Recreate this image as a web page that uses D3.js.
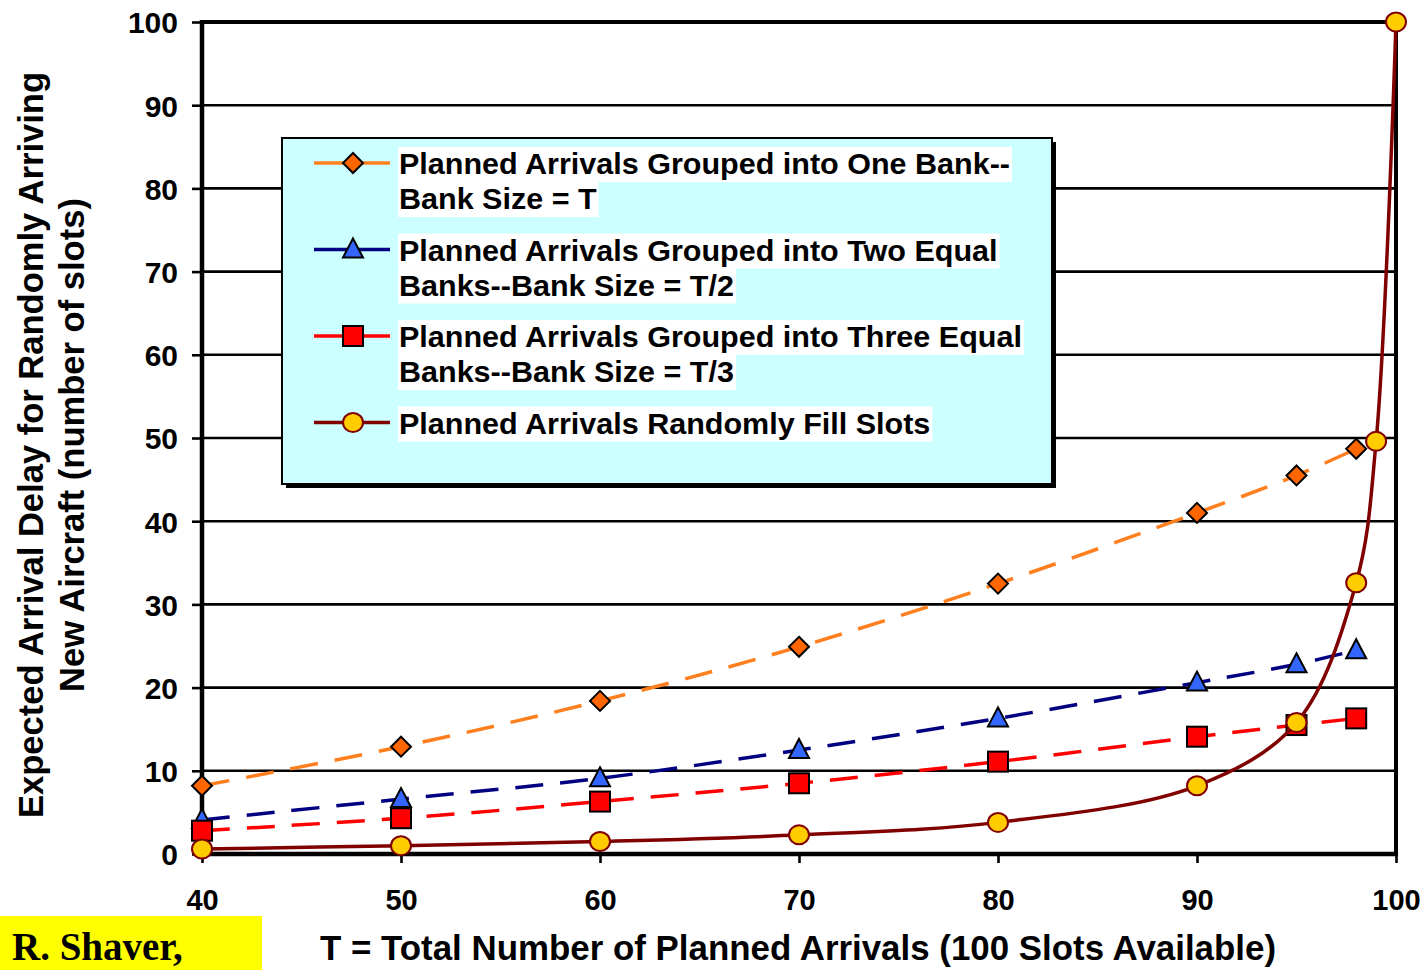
<!DOCTYPE html>
<html><head><meta charset="utf-8">
<script src="https://cdn.jsdelivr.net/npm/d3@7"></script>
<style>body{margin:0;background:#fff;} svg{display:block;}</style>
</head><body><svg id="c" width="1428" height="970"></svg>
<script>
// ---- data ----
const tValues    = [40, 50, 60, 70, 80, 90, 95, 98];
const oneBank    = [8.2, 12.9, 18.4, 24.9, 32.5, 41.0, 45.5, 48.7];
const twoBanks   = [4.1, 6.6, 9.1, 12.5, 16.3, 20.6, 22.8, 24.5];
const threeBanks = [2.8, 4.3, 6.3, 8.5, 11.1, 14.1, 15.5, 16.3];
const randomT    = [40, 50, 60, 70, 80, 90, 95, 98, 99, 100];
const randomFill = [0.6, 1.0, 1.5, 2.3, 3.8, 8.2, 15.8, 32.6, 49.6, 100];
const xTicks = [40, 50, 60, 70, 80, 90, 100];
const yTicks = [0, 10, 20, 30, 40, 50, 60, 70, 80, 90, 100];
const legendLines = [
  ["Planned Arrivals Grouped into One Bank--", "Bank Size = T"],
  ["Planned Arrivals Grouped into Two Equal", "Banks--Bank Size = T/2"],
  ["Planned Arrivals Grouped into Three Equal", "Banks--Bank Size = T/3"],
  ["Planned Arrivals Randomly Fill Slots"]
];
const xTitle = "T = Total Number of Planned Arrivals (100 Slots Available)";
const yTitleLines = ["Expected Arrival Delay for Randomly Arriving", "New Aircraft (number of slots)"];
const creditText = "R. Shaver,";

// ---- styles ----
const series = [
  {xs: tValues, ys: oneBank,    line: "#FF7F1F", fill: "#FF6600", stroke: "#000", shape: "diamond", dash: "28,17", lw: 3.5},
  {xs: tValues, ys: twoBanks,   line: "#000080", fill: "#3366FF", stroke: "#000", shape: "triangle", dash: "28,17", lw: 3.5},
  {xs: tValues, ys: threeBanks, line: "#FF0000", fill: "#FF0000", stroke: "#000", shape: "square", dash: "28,17", lw: 3.5},
  {xs: randomT, ys: randomFill, line: "#800000", fill: "#FFCC00", stroke: "#800000", shape: "circle", dash: null, lw: 3.5}
];

const svg = d3.select("#c");
svg.append("rect").attr("width", 1428).attr("height", 970).attr("fill", "#fff");

const x = d3.scaleLinear().domain([40, 100]).range([202, 1396]);
const y = d3.scaleLinear().domain([0, 100]).range([854, 22]);
const FONT = "'Liberation Sans', Arial, Helvetica, sans-serif";

// gridlines
svg.append("g").selectAll("line").data(yTicks.filter(d => d > 0 && d < 100)).join("line")
  .attr("x1", x(40)).attr("x2", x(100)).attr("y1", d => y(d)).attr("y2", d => y(d))
  .attr("stroke", "#000").attr("stroke-width", 2.6);

// axes
const yAxis = svg.append("g").attr("transform", `translate(${x(40)},0)`)
  .call(d3.axisLeft(y).tickValues(yTicks).tickSize(10).tickSizeOuter(0).tickPadding(14));
yAxis.select(".domain").remove();
yAxis.selectAll(".tick line").attr("stroke", "#000").attr("stroke-width", 2.6);
yAxis.selectAll(".tick text").attr("font-family", FONT).attr("font-weight", "bold")
  .attr("font-size", 30).attr("fill", "#000").attr("dy", "0.36em");

const xAxis = svg.append("g").attr("transform", `translate(0,${y(0)})`)
  .call(d3.axisBottom(x).tickValues(xTicks).tickSize(9).tickSizeOuter(0).tickPadding(0));
xAxis.select(".domain").remove();
xAxis.selectAll(".tick line").attr("stroke", "#000").attr("stroke-width", 2.6);
xAxis.selectAll(".tick text").attr("font-family", FONT).attr("font-weight", "bold")
  .attr("font-size", 29).attr("fill", "#000").attr("dy", 0).attr("y", 56);

// frame
const frame = svg.append("g").attr("stroke", "#000").attr("fill", "none");
frame.append("line").attr("x1", x(40)).attr("x2", x(100)).attr("y1", y(100)).attr("y2", y(100)).attr("stroke-width", 4);
frame.append("line").attr("x1", x(100)).attr("x2", x(100)).attr("y1", y(100) - 2).attr("y2", y(0) + 2).attr("stroke-width", 4);
frame.append("line").attr("x1", x(40)).attr("x2", x(100) + 2).attr("y1", y(0)).attr("y2", y(0)).attr("stroke-width", 4.5);
frame.append("line").attr("x1", x(40)).attr("x2", x(40)).attr("y1", y(100) - 2).attr("y2", y(0) + 2).attr("stroke-width", 4.5);

// marker drawing
function marker(g, shape, cx, cy, fill, stroke) {
  if (shape === "diamond") {
    g.append("path").attr("d", `M${cx},${cy - 10}L${cx + 10},${cy}L${cx},${cy + 10}L${cx - 10},${cy}Z`)
      .attr("fill", fill).attr("stroke", stroke).attr("stroke-width", 2);
  } else if (shape === "triangle") {
    g.append("path").attr("d", `M${cx},${cy - 11}L${cx + 10},${cy + 8}L${cx - 10},${cy + 8}Z`)
      .attr("fill", fill).attr("stroke", stroke).attr("stroke-width", 2).attr("stroke-linejoin", "miter");
  } else if (shape === "square") {
    g.append("rect").attr("x", cx - 10).attr("y", cy - 10).attr("width", 20).attr("height", 20)
      .attr("fill", fill).attr("stroke", stroke).attr("stroke-width", 2);
  } else {
    g.append("ellipse").attr("cx", cx).attr("cy", cy).attr("rx", 10).attr("ry", 9.5)
      .attr("fill", fill).attr("stroke", stroke).attr("stroke-width", 2);
  }
}

// series
const lineGen = d3.line().x(d => x(d[0])).y(d => y(d[1])).curve(d3.curveCatmullRom.alpha(0.5));
series.forEach(s => {
  const pts = s.xs.map((t, i) => [t, s.ys[i]]);
  const g = svg.append("g");
  g.append("path").attr("d", lineGen(pts)).attr("fill", "none").attr("stroke", s.line)
    .attr("stroke-width", s.lw).attr("stroke-dasharray", s.dash);
  pts.forEach(p => marker(g, s.shape, x(p[0]), y(p[1]), s.fill, s.stroke));
});

// legend
const lg = svg.append("g");
lg.append("rect").attr("x", 286).attr("y", 142).attr("width", 770).attr("height", 346).attr("fill", "#000");
lg.append("rect").attr("x", 282).attr("y", 138).attr("width", 770).attr("height", 346)
  .attr("fill", "#CCFFFF").attr("stroke", "#000").attr("stroke-width", 2);
let legendK = null;
legendLines.forEach((lines, i) => {
  const base = 174 + i * 86.5;
  const s = series[i];
  const my = base - 11;
  lg.append("line").attr("x1", 314).attr("x2", 390).attr("y1", my).attr("y2", my)
    .attr("stroke", s.line).attr("stroke-width", 3.5);
  marker(lg, s.shape, 353, my, s.fill, s.stroke);
  lines.forEach((txt, j) => {
    const bl = base + j * 35;
    const bg = lg.append("rect").attr("fill", "#fff");
    const t = lg.append("text").attr("x", 399).attr("y", bl).text(txt)
      .attr("font-family", FONT).attr("font-weight", "bold").attr("font-size", 30).attr("fill", "#000");
    let w = t.node().getComputedTextLength();
    if (legendK === null) legendK = 611 / w;
    w = w * legendK;
    t.attr("textLength", w).attr("lengthAdjust", "spacingAndGlyphs");
    bg.attr("x", 398).attr("y", bl - 27).attr("width", w + 3).attr("height", 35);
  });
});

// axis titles
const xt = svg.append("text").attr("x", 798).attr("y", 960).attr("text-anchor", "middle").text(xTitle)
  .attr("font-family", FONT).attr("font-weight", "bold").attr("font-size", 34.5).attr("fill", "#000");
xt.attr("textLength", 956).attr("lengthAdjust", "spacingAndGlyphs");
let yK = null;
yTitleLines.forEach((txt, j) => {
  const t = svg.append("text").attr("transform", `translate(${43 + j * 41},445) rotate(-90)`)
    .attr("text-anchor", "middle").text(txt)
    .attr("font-family", FONT).attr("font-weight", "bold").attr("font-size", 34.5).attr("fill", "#000");
  const w = t.node().getComputedTextLength();
  if (yK === null) yK = 746 / w;
  t.attr("textLength", w * yK).attr("lengthAdjust", "spacingAndGlyphs");
});

// credit box
svg.append("rect").attr("x", 0).attr("y", 916).attr("width", 262).attr("height", 60).attr("fill", "#FFFF00");
svg.append("text").attr("x", 12).attr("y", 960).text(creditText)
  .attr("font-family", "'Liberation Serif', 'Times New Roman', serif").attr("font-weight", "bold")
  .attr("font-size", 39).attr("fill", "#000");
</script>
</body></html>
